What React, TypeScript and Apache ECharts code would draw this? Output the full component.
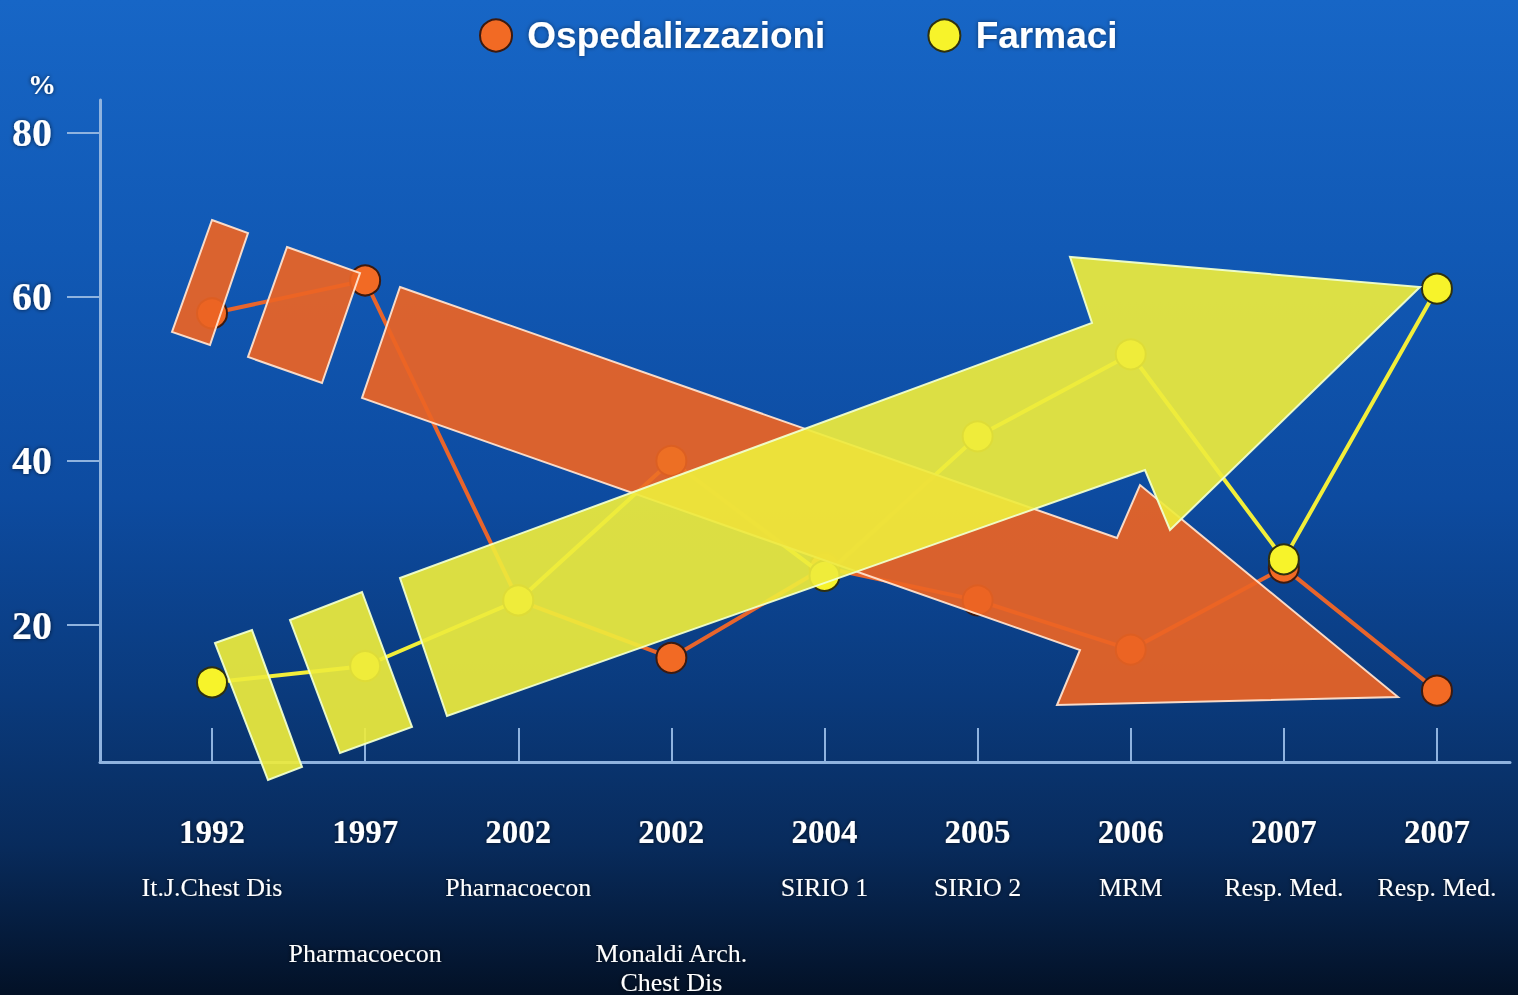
import React, { useEffect, useRef } from "react";
import * as echarts from "echarts";

// ---- data ----
const years = ["1992", "1997", "2002", "2002", "2004", "2005", "2006", "2007", "2007"];
const sources = [
  "It.J.Chest Dis",
  "Pharmacoecon",
  "Pharnacoecon",
  "Monaldi Arch.\nChest Dis",
  "SIRIO 1",
  "SIRIO 2",
  "MRM",
  "Resp. Med.",
  "Resp. Med.",
];
const sourceLowered = [false, true, false, true, false, false, false, false, false];
const ospedalizzazioni = [58, 62, 23, 16, 27, 23, 17, 27, 12];
const farmaci = [13, 15, 23, 40, 26, 43, 53, 28, 61];
const yTicks = [20, 40, 60, 80];
const seriesNames = ["Ospedalizzazioni", "Farmaci"];

// decorative arrows (pixel polygons)
const orangeArrow = [
  [[212, 220], [248, 233], [210, 345], [172, 332]],
  [[287, 247], [360, 273], [322, 383], [248, 357]],
  [[400, 287], [1117, 538], [1140, 485], [1398, 697], [1057, 705], [1080, 650], [362, 398]],
];
const yellowArrow = [
  [[215, 643], [252, 630], [302, 767], [268, 780]],
  [[290, 620], [362, 592], [412, 727], [340, 753]],
  [[400, 578], [1092, 323], [1070, 257], [1420, 287], [1170, 530], [1145, 470], [447, 716]],
];

const AXIS_COLOR = "#8fb3df";
const SERIF = "'Liberation Serif', 'Times New Roman', serif";
const SANS = "'Liberation Sans', Arial, sans-serif";

export default function App() {
  const ref = useRef<HTMLDivElement>(null);
  useEffect(() => {
    if (!ref.current) return;
    const chart = echarts.init(ref.current, null, { renderer: "svg" });
    const idx = years.map((_, i) => i);

    const graphics: any[] = [];
    orangeArrow.forEach((pts) =>
      graphics.push({
        type: "polygon",
        z: 10,
        shape: { points: pts },
        style: {
          fill: "rgba(236,100,36,0.92)",
          stroke: "rgba(255,225,205,0.95)",
          lineWidth: 2,
        },
      })
    );
    yellowArrow.forEach((pts) =>
      graphics.push({
        type: "polygon",
        z: 11,
        shape: { points: pts },
        style: {
          fill: "rgba(238,236,60,0.92)",
          stroke: "rgba(240,255,205,0.95)",
          lineWidth: 2,
        },
      })
    );
    graphics.push({
      type: "text",
      left: 28,
      top: 70,
      z: 12,
      style: {
        text: "%",
        fill: "#ffffff",
        font: `bold 28px ${SERIF}`,
        textShadowColor: "rgba(0,0,0,0.7)",
        textShadowBlur: 4,
      },
    });

    const srcStyle = {
      color: "#ffffff",
      fontSize: 26,
      fontFamily: SERIF,
      lineHeight: 32,
      textShadowColor: "rgba(0,0,0,0.7)",
      textShadowBlur: 4,
    };

    chart.setOption({
      animation: false,
      backgroundColor: "transparent",
      legend: {
        left: 474,
        top: 12,
        icon: "circle",
        itemWidth: 32,
        itemHeight: 32,
        itemGap: 102,
        data: seriesNames,
        formatter: (n: string) => " " + n,
        textStyle: {
          color: "#ffffff",
          fontSize: 37,
          fontWeight: "bold",
          fontFamily: SANS,
          textShadowColor: "rgba(0,0,0,0.5)",
          textShadowBlur: 4,
        },
      },
      grid: { left: 100, right: 8, top: 100, bottom: 228 },
      xAxis: {
        type: "value",
        min: -0.7316,
        max: 8.477,
        splitLine: { show: false },
        axisLine: { onZero: false, lineStyle: { color: AXIS_COLOR, width: 3 } },
        axisTick: {
          inside: true,
          length: 34,
          customValues: idx,
          lineStyle: { color: AXIS_COLOR, width: 2 },
        },
        axisLabel: {
          customValues: idx,
          margin: 31,
          formatter: (v: number) => {
            const i = Math.round(v);
            const parts = sources[i].split("\n");
            const lines = parts.map((s, k) =>
              k === 0 && sourceLowered[i] ? `{sl|${s}}` : `{s|${s}}`
            );
            return `{y|${years[i]}}\n` + lines.join("\n");
          },
          rich: {
            y: {
              color: "#ffffff",
              fontSize: 33,
              fontWeight: "bold",
              fontFamily: SERIF,
              lineHeight: 78,
              textShadowColor: "rgba(0,0,0,0.7)",
              textShadowBlur: 4,
            },
            s: srcStyle,
            sl: { ...srcStyle, lineHeight: 95, verticalAlign: "bottom" },
          },
        },
      },
      yAxis: {
        type: "value",
        min: 3.3,
        max: 84,
        splitLine: { show: false },
        axisLine: { show: true, onZero: false, lineStyle: { color: AXIS_COLOR, width: 3 } },
        axisTick: {
          show: true,
          length: 33,
          customValues: yTicks,
          lineStyle: { color: AXIS_COLOR, width: 2 },
        },
        axisLabel: {
          customValues: yTicks,
          margin: 48,
          color: "#ffffff",
          fontSize: 40,
          fontWeight: "bold",
          fontFamily: SERIF,
          textShadowColor: "rgba(0,0,0,0.7)",
          textShadowBlur: 4,
        },
      },
      series: [
        {
          name: seriesNames[0],
          type: "line",
          z: 3,
          data: ospedalizzazioni.map((v, i) => [i, v]),
          symbol: "circle",
          symbolSize: 30,
          lineStyle: { color: "#e8652c", width: 4 },
          itemStyle: { color: "#f26a24", borderColor: "#3b1a10", borderWidth: 2 },
        },
        {
          name: seriesNames[1],
          type: "line",
          z: 4,
          data: farmaci.map((v, i) => [i, v]),
          symbol: "circle",
          symbolSize: 30,
          lineStyle: { color: "#f2ee3a", width: 4 },
          itemStyle: { color: "#f7f32a", borderColor: "#2e3010", borderWidth: 2 },
        },
      ],
      graphic: graphics,
    });
    return () => chart.dispose();
  }, []);

  return (
    <div
      ref={ref}
      style={{
        position: "fixed",
        left: 0,
        top: 0,
        width: 1518,
        height: 995,
        background:
          "linear-gradient(to bottom, #1766c6 0%, #1159b5 25%, #0d4ba0 50%, #0a3a7c 70%, #082b5c 85%, #031126 100%)",
      }}
    />
  );
}
